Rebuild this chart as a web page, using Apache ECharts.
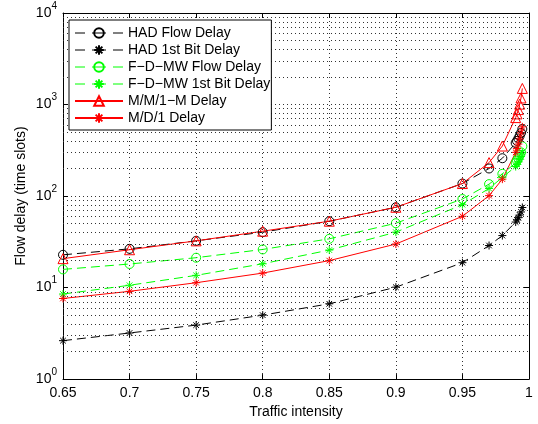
<!DOCTYPE html>
<html><head><meta charset="utf-8">
<script src="https://cdn.jsdelivr.net/npm/echarts@6/dist/echarts.min.js"></script>
<style>html,body{margin:0;padding:0;background:#fff}#c{width:538px;height:424px}</style>
</head><body><div id="c"></div>
<script>
// Traffic intensity (x values)
const rho = [0.65, 0.7, 0.75, 0.8, 0.85, 0.9, 0.95, 0.97, 0.98, 0.99, 0.991, 0.992, 0.993, 0.994, 0.995];
// Series values (time slots)
const hadFlowDelay     = [22.8, 26.5, 32.4, 40.3, 53.1, 75.4, 137, 200, 259, 380, 400, 425, 455, 490, 540];
const had1stBitDelay   = [2.63, 3.19, 3.89, 5.0, 6.65, 10.1, 18.7, 28.8, 37, 52, 55, 58, 62, 67, 75];
const fdmwFlowDelay    = [15.8, 18.1, 21.2, 26.1, 34.1, 50.5, 92.8, 135, 175, 230, 245, 260, 280, 300, 350];
const fdmw1stBitDelay  = [8.5, 10.6, 13.6, 18.2, 25.7, 40.3, 80.5, 121, 160, 210, 222, 236, 252, 270, 300];
const mm1mDelay        = [20.7, 25.9, 32.4, 41.3, 53.1, 75.4, 137, 232, 352, 720, 790, 880, 1010, 1180, 1500];
const md1Delay         = [7.6, 9.1, 11.3, 14.4, 19.7, 29.9, 60.1, 101, 153, 300, 330, 370, 420, 490, 570];
// Legend names
const seriesNames = ['HAD Flow Delay', 'HAD 1st Bit Delay', 'F\u2212D\u2212MW Flow Delay', 'F\u2212D\u2212MW 1st Bit Delay', 'M/M/1\u2212M Delay', 'M/D/1 Delay'];
// Axis ticks
const xTicks = [0.65, 0.7, 0.75, 0.8, 0.85, 0.9, 0.95, 1];
const yMinorGrid = [2,3,4,5,6,7,8,9,20,30,40,50,60,70,80,90,200,300,400,500,600,700,800,900,2000,3000,4000,5000,6000,7000,8000,9000];

const FONT = '"Liberation Sans", Arial, Helvetica, sans-serif';
const STAR = 'path://M5,0L5,10M0,5L10,5M1.5,1.5L8.5,8.5M1.5,8.5L8.5,1.5';
const DASH = [9, 5];
const LEGEND_DASH = [10, 7, 14, 7, 10];
const pairs = ys => rho.map((x, i) => [x, ys[i]]);
const dashedSeries = [true, true, true, true, false, false];

function mk(name, ys, color, dashed, symbol, size) {
  const isStar = symbol === STAR;
  return {
    name, type: 'line', data: pairs(ys), symbol, symbolSize: size, showSymbol: true,
    lineStyle: {color, width: 1, type: dashed ? DASH : 'solid'},
    itemStyle: {color: isStar ? color : 'rgba(0,0,0,0)', borderColor: color, borderWidth: 1},
    emphasis: {disabled: true}, animation: false, z: 3
  };
}

const chart = echarts.init(document.getElementById('c'), null, {renderer: 'canvas'});
const axisLine = {show: true, onZero: false, lineStyle: {color: '#000', width: 1}};
const dotted = {color: '#333', width: 1, type: [1, 3]};
chart.setOption({
  animation: false,
  backgroundColor: '#fff',
  grid: {left: 63, top: 13, width: 466, height: 368, containLabel: false},
  legend: {
    orient: 'vertical', left: 69, top: 20, z: 10,
    padding: [6, 1, 5, 5], itemWidth: 48, itemHeight: 12, itemGap: 3,
    borderColor: '#000', borderWidth: 1, backgroundColor: '#fff',
    textStyle: {fontFamily: FONT, fontSize: 14, color: '#000'},
    data: seriesNames.map((n, i) => dashedSeries[i]
      ? {name: n, lineStyle: {type: LEGEND_DASH, width: 1}}
      : {name: n})
  },
  xAxis: [{
    type: 'value', min: 0.65, max: 1, interval: 0.05, position: 'bottom',
    axisLine, axisTick: {show: true, inside: true, length: 5, lineStyle: {color: '#000'}},
    axisLabel: {fontFamily: FONT, fontSize: 14, color: '#000', margin: 7,
      formatter: v => { const t = xTicks.find(k => Math.abs(k - v) < 1e-6); return t === undefined ? '' : String(t); }},
    splitLine: {show: true, lineStyle: dotted},
    name: 'Traffic intensity', nameLocation: 'middle', nameGap: 22,
    nameTextStyle: {fontFamily: FONT, fontSize: 14, color: '#000'}
  }, {
    type: 'value', min: 0.65, max: 1, interval: 0.05, position: 'top',
    axisLine, axisTick: {show: true, inside: true, length: 5, lineStyle: {color: '#000'}},
    axisLabel: {show: false}, splitLine: {show: false}
  }],
  yAxis: [{
    type: 'log', logBase: 10, min: 1, max: 10000, position: 'left',
    axisLine, axisTick: {show: true, inside: true, length: 5, lineStyle: {color: '#000'}},
    axisLabel: {margin: 6, formatter: v => '{b|10}{e|' + Math.round(Math.log10(v)) + '}',
      rich: {b: {fontFamily: FONT, fontSize: 14, color: '#000'},
             e: {fontFamily: FONT, fontSize: 10, color: '#000', padding: [0, 0, 14, 0]}}},
    splitLine: {show: true, lineStyle: dotted},
    name: 'Flow delay (time slots)', nameLocation: 'middle', nameGap: 35, nameRotate: 90,
    nameMoveOverlap: false,
    nameTextStyle: {fontFamily: FONT, fontSize: 14, color: '#000'}
  }, {
    type: 'log', logBase: 10, min: 1, max: 10000, position: 'right',
    axisLine, axisTick: {show: true, inside: true, length: 5, lineStyle: {color: '#000'}},
    axisLabel: {show: false}, splitLine: {show: false}
  }],
  series: [
    {name: '_grid', type: 'line', data: [], silent: true, z: 1,
     markLine: {silent: true, symbol: ['none', 'none'], label: {show: false}, animation: false,
       lineStyle: dotted, emphasis: {disabled: true},
       data: yMinorGrid.map(v => ({yAxis: v}))}},
    mk(seriesNames[0], hadFlowDelay, '#000000', true, 'circle', 9),
    mk(seriesNames[1], had1stBitDelay, '#000000', true, STAR, 8),
    mk(seriesNames[2], fdmwFlowDelay, '#00ff00', true, 'circle', 9),
    mk(seriesNames[3], fdmw1stBitDelay, '#00ff00', true, STAR, 8),
    mk(seriesNames[4], mm1mDelay, '#ff0000', false, 'triangle', 10),
    mk(seriesNames[5], md1Delay, '#ff0000', false, STAR, 8)
  ]
});
</script>
</body></html>
